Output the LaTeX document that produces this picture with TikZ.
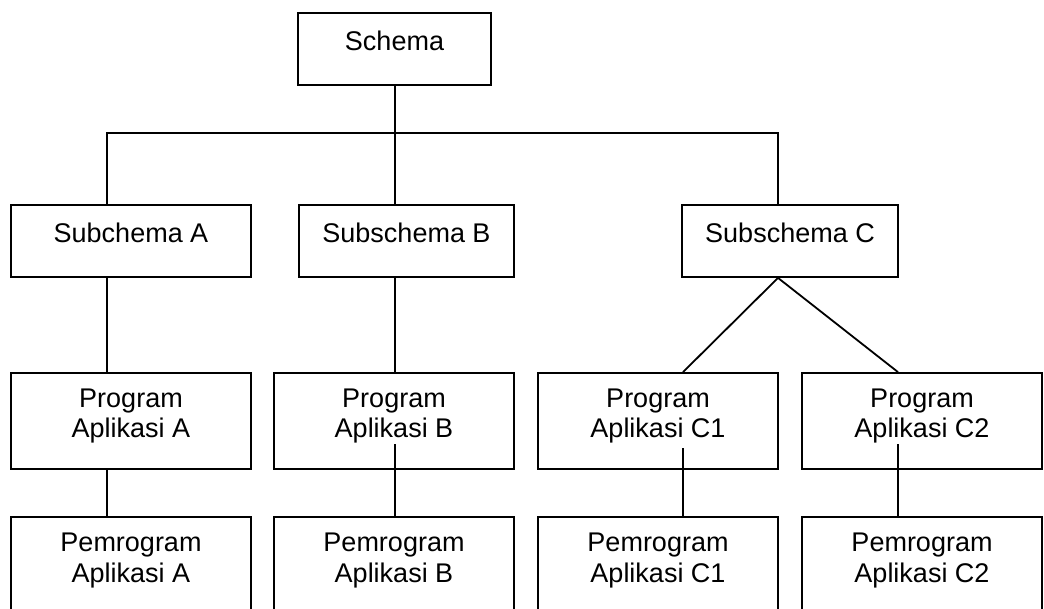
\documentclass[tikz,border=0pt]{standalone}
\usepackage{fontspec}
\setmainfont{Liberation Sans}
\begin{document}
\begin{tikzpicture}[x=1pt,y=-1pt,
  box/.style={draw=black, line width=1.8pt, rectangle, inner sep=0pt},
  txt/.style={align=center, inner sep=0pt, font=\fontsize{27}{30.5}\selectfont},
  link/.style={line width=1.8pt}]
\useasboundingbox (0,0) rectangle (1044,608);
\clip (0,0) rectangle (1044,608);
% boxes
\node[box, minimum width=193, minimum height=72] (sch) at (394.5,49) {};
\node[box, minimum width=240, minimum height=72] (sa) at (131,241) {};
\node[box, minimum width=215, minimum height=72] (sb) at (406.5,241) {};
\node[box, minimum width=216, minimum height=72] (sc) at (790,241) {};
\node[box, minimum width=240, minimum height=96] (pa) at (131,421) {};
\node[box, minimum width=240, minimum height=96] (pb) at (394,421) {};
\node[box, minimum width=240, minimum height=96] (pc1) at (658,421) {};
\node[box, minimum width=240, minimum height=96] (pc2) at (922,421) {};
\node[box, minimum width=240, minimum height=120] (ma) at (131,577) {};
\node[box, minimum width=240, minimum height=120] (mb) at (394,577) {};
\node[box, minimum width=240, minimum height=120] (mc1) at (658,577) {};
\node[box, minimum width=240, minimum height=120] (mc2) at (922,577) {};
% labels
\node[txt, anchor=base] at (394.5,50) {Schema};
\node[txt, anchor=base] at (131,242) {Subchema A};
\node[txt, anchor=base] at (406.5,242) {Subschema B};
\node[txt, anchor=base] at (790,242) {Subschema C};
\node[txt] at (131,416) {Program\\Aplikasi A};
\node[txt] at (394,416) {Program\\Aplikasi B};
\node[txt] at (658,416) {Program\\Aplikasi C1};
\node[txt] at (922,416) {Program\\Aplikasi C2};
\node[txt] at (131,560.5) {Pemrogram\\Aplikasi A};
\node[txt] at (394,560.5) {Pemrogram\\Aplikasi B};
\node[txt] at (658,560.5) {Pemrogram\\Aplikasi C1};
\node[txt] at (922,560.5) {Pemrogram\\Aplikasi C2};
% junction points
\coordinate (jA) at (107,133);
\coordinate (jB) at (395,133);
\coordinate (jC) at (778,133);
\coordinate (kB) at (395,444);
\coordinate (kC1) at (683,448);
\coordinate (kC2) at (898,444);
% connectors
\draw[link] (jB |- sch.south) -- (jB);
\draw[link] (jA |- sa.north) -- (jA) -- (jC) -- (jC |- sc.north);
\draw[link] (jB) -- (jB |- sb.north);
\draw[link] (jA |- sa.south) -- (jA |- pa.north);
\draw[link] (jA |- pa.south) -- (jA |- ma.north);
\draw[link] (jB |- sb.south) -- (jB |- pb.north);
\draw[link] (kB) -- (kB |- mb.north);
\draw[link] (kC1 |- pc1.north) -- (jC |- sc.south) -- (kC2 |- pc2.north);
\draw[link] (kC1) -- (kC1 |- mc1.north);
\draw[link] (kC2) -- (kC2 |- mc2.north);
\end{tikzpicture}
\end{document}
